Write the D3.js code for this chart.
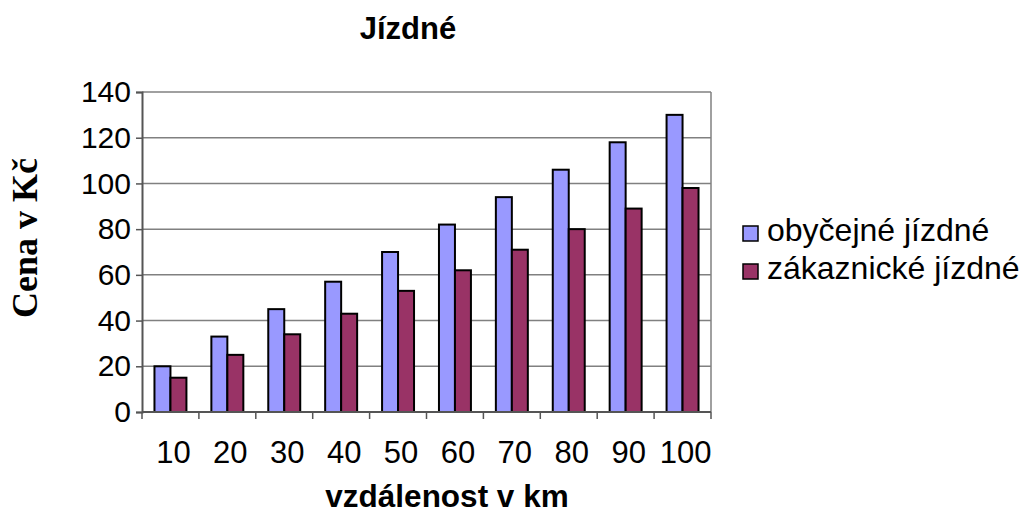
<!DOCTYPE html>
<html>
<head>
<meta charset="utf-8">
<script src="https://cdn.jsdelivr.net/npm/d3@7"></script>
<style>
    body { margin: 0; background: #fff; }
    svg { display: block; }
    .sans { font-family: "Liberation Sans", Arial, sans-serif; }
</style>
</head>
<body>
<svg id="chart" width="1019" height="512"></svg>
<script>
// data
let categories = ["10", "20", "30", "40", "50", "60", "70", "80", "90", "100"];
let obycejne = [20, 33, 45, 57, 70, 82, 94, 106, 118, 130];
let zakaznicke = [15, 25, 34, 43, 53, 62, 71, 80, 89, 98];
let seriesNames = ["obyčejné jízdné", "zákaznické jízdné"];
let seriesColors = ["#9999ff", "#993366"];
let yTicks = [0, 20, 40, 60, 80, 100, 120, 140];

let plot = {left: 142, right: 711, top: 92, bottom: 412};

let svg = d3.select("#chart");

let x = d3.scaleBand()
    .domain(categories)
    .range([plot.left, plot.right]);

// two bars per category, gap on both sides
let x1 = d3.scaleBand()
    .domain([0, 1])
    .range([0, x.bandwidth()])
    .paddingOuter(0.78);

let y = d3.scaleLinear()
    .domain([0, 140])
    .range([plot.bottom, plot.top]);

// gridlines
svg.append("g")
    .selectAll("line")
    .data(yTicks.slice(1))
    .enter()
    .append("line")
    .attr("x1", plot.left)
    .attr("x2", plot.right)
    .attr("y1", d => y(d))
    .attr("y2", d => y(d))
    .attr("stroke", "#808080")
    .attr("stroke-width", 1.5);

// right border
svg.append("line")
    .attr("x1", plot.right).attr("x2", plot.right)
    .attr("y1", plot.top).attr("y2", plot.bottom)
    .attr("stroke", "#808080")
    .attr("stroke-width", 1.5);

// bars
let rows = categories.map((c, i) => ({cat: c, vals: [obycejne[i], zakaznicke[i]]}));
let groups = svg.append("g")
    .selectAll("g")
    .data(rows)
    .enter()
    .append("g")
    .attr("transform", d => "translate(" + x(d.cat) + ",0)");

groups.selectAll("rect")
    .data(d => d.vals.map((v, k) => ({k: k, v: v})))
    .enter()
    .append("rect")
    .attr("x", d => x1(d.k))
    .attr("width", x1.bandwidth())
    .attr("y", d => y(d.v))
    .attr("height", d => y(0) - y(d.v))
    .attr("fill", d => seriesColors[d.k])
    .attr("stroke", "#000")
    .attr("stroke-width", 2);

// y axis
let yAxis = d3.axisLeft(y)
    .tickValues(yTicks)
    .tickSize(6)
    .tickPadding(5);
let yG = svg.append("g")
    .attr("transform", "translate(" + plot.left + ",0)")
    .call(yAxis);
yG.select(".domain").attr("stroke", "#555").attr("stroke-width", 2);
yG.selectAll(".tick line").attr("stroke", "#555").attr("stroke-width", 1.5);
yG.selectAll(".tick text")
    .attr("class", "sans")
    .attr("font-size", 30)
    .attr("fill", "#000");

// x axis: ticks sit between categories
let xG = svg.append("g")
    .attr("transform", "translate(0," + plot.bottom + ")");
xG.append("line")
    .attr("x1", plot.left).attr("x2", plot.right)
    .attr("stroke", "#555").attr("stroke-width", 2);
xG.selectAll(".xtick")
    .data(categories.concat(["end"]))
    .enter()
    .append("line")
    .attr("x1", (d, i) => i < categories.length ? x(d) : plot.right)
    .attr("x2", (d, i) => i < categories.length ? x(d) : plot.right)
    .attr("y1", 0)
    .attr("y2", 7)
    .attr("stroke", "#555")
    .attr("stroke-width", 1.5);
xG.selectAll("text")
    .data(categories)
    .enter()
    .append("text")
    .attr("class", "sans")
    .attr("x", d => x(d) + x.bandwidth() / 2 + 3)
    .attr("y", 51)
    .attr("text-anchor", "middle")
    .attr("font-size", 31)
    .text(d => d);

// titles
svg.append("text")
    .attr("class", "sans")
    .attr("x", 408)
    .attr("y", 39)
    .attr("text-anchor", "middle")
    .attr("font-size", 31)
    .attr("font-weight", "bold")
    .text("Jízdné");

svg.append("text")
    .attr("class", "sans")
    .attr("x", 447)
    .attr("y", 507)
    .attr("text-anchor", "middle")
    .attr("font-size", 31.5)
    .attr("font-weight", "bold")
    .text("vzdálenost v km");

svg.append("text")
    .attr("transform", "translate(37,238) rotate(-90)")
    .attr("text-anchor", "middle")
    .attr("font-family", "'Liberation Serif', 'Times New Roman', serif")
    .attr("font-size", 36)
    .attr("font-weight", "bold")
    .text("Cena v Kč");

// legend
let legend = svg.append("g")
    .attr("transform", "translate(743,226)");
let items = legend.selectAll("g")
    .data(seriesNames)
    .enter()
    .append("g")
    .attr("transform", (d, i) => "translate(0," + i * 38 + ")");
items.append("rect")
    .attr("width", 15)
    .attr("height", 15)
    .attr("fill", (d, i) => seriesColors[i])
    .attr("stroke", "#000")
    .attr("stroke-width", 1.5);
items.append("text")
    .attr("class", "sans")
    .attr("x", 24)
    .attr("y", 15)
    .attr("font-size", 32)
    .text(d => d);
</script>
</body>
</html>
